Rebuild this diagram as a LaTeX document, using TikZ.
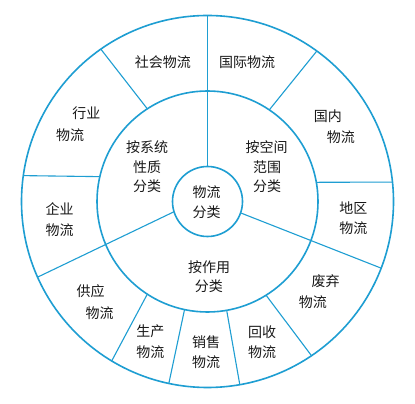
\documentclass[tikz,border=0pt]{standalone}
\usepackage{fontspec}
\newfontfamily\cjk{Noto Sans CJK SC}
\definecolor{ring}{RGB}{30,158,210}
\definecolor{ink}{RGB}{25,25,25}
\begin{document}
\begin{tikzpicture}[x=1pt,y=1pt,
  ringc/.style={circle,draw=ring,line width=1.6pt,inner sep=0pt,outer sep=0pt},
  divider/.style={draw=ring,line width=1.1pt},
  lbl/.style={inner sep=0pt,text=ink,font=\cjk\fontsize{14}{16}\selectfont}]
\useasboundingbox (0,0) rectangle (415,404);
\fill[white] (0,0) rectangle (415,404);
\coordinate (c) at (207.5,202.5);
\node[ringc,minimum size=372pt] (outer) at (c) {};
\node[ringc,minimum size=221pt] (mid) at (c) {};
\node[ringc,minimum size=70pt] (core) at (c) {};
% dividers
\draw[divider] (core.90) -- (outer.90);
\draw[divider] (core.197.5) -- (outer.204.4);
\draw[divider] (core.-19) -- (outer.-21.3);
\draw[divider] (mid.123.3) -- (outer.125.7);
\draw[divider] (mid.56.4) -- (outer.54.7);
\draw[divider] (mid.167.88) -- (outer.172.83);
\draw[divider] (mid.10.85) -- (outer.6.42);
\draw[divider] (mid.237.9) -- (outer.239.0);
\draw[divider] (mid.258.6) -- (outer.258.9);
\draw[divider] (mid.280.4) -- (outer.280.35);
\draw[divider] (mid.302.6) -- (outer.304.6);
% centre
\node[lbl] (t1) at (206.7,211.7) {物流};
\node[lbl] (t2) at (206.7,191.7) {分类};
% middle ring
\node[lbl] (m1) at (147.2,257.3) {按系统};
\node[lbl] (m2) at (147,237.3) {性质};
\node[lbl] (m3) at (147,217.3) {分类};
\node[lbl] (n1) at (266.7,257.3) {按空间};
\node[lbl] (n2) at (267,237.3) {范围};
\node[lbl] (n3) at (267,217.3) {分类};
\node[lbl] (p1) at (209.2,137.3) {按作用};
\node[lbl] (p2) at (208.8,117.3) {分类};
% outer ring
\node[lbl] (o1) at (162.8,342.3) {社会物流};
\node[lbl] (o2) at (247.2,342.3) {国际物流};
\node[lbl] (o3a) at (86.3,290.7) {行业};
\node[lbl] (o3b) at (70,269) {物流};
\node[lbl] (o4a) at (327.8,288.3) {国内};
\node[lbl] (o4b) at (340.8,266.7) {物流};
\node[lbl] (o5a) at (59.5,194.7) {企业};
\node[lbl] (o5b) at (59.5,174) {物流};
\node[lbl] (o6a) at (353.3,195.7) {地区};
\node[lbl] (o6b) at (353.3,175.7) {物流};
\node[lbl] (o7a) at (90.7,113) {供应};
\node[lbl] (o7b) at (99.7,90.7) {物流};
\node[lbl] (o8a) at (150.3,72.3) {生产};
\node[lbl] (o8b) at (150.3,52.3) {物流};
\node[lbl] (o9a) at (206.2,62.3) {销售};
\node[lbl] (o9b) at (206.2,42.3) {物流};
\node[lbl] (o10a) at (262.2,71.7) {回收};
\node[lbl] (o10b) at (262.2,52.3) {物流};
\node[lbl] (o11a) at (325.5,123) {废弃};
\node[lbl] (o11b) at (312.8,102.3) {物流};
\end{tikzpicture}
\end{document}
